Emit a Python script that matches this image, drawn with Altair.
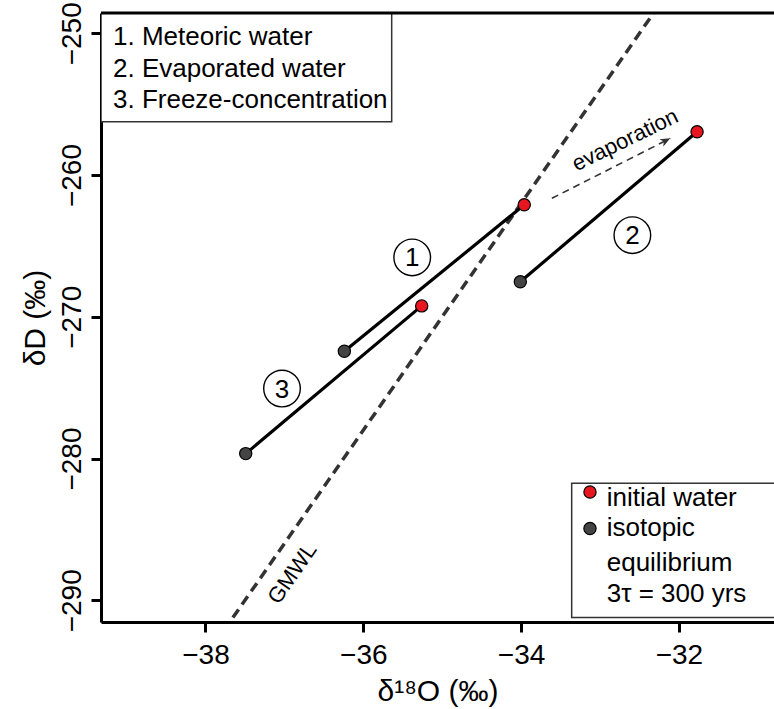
import altair as alt
import pandas as pd

# ---- data -----------------------------------------------------------------
# Three modelled paths: initial water -> isotopic equilibrium (3 tau = 300 yrs)
path_label = ["1", "2", "3"]
initial_d18o = [-33.96, -31.77, -35.26]
initial_dD = [-262.10, -256.95, -269.23]
equil_d18o = [-36.24, -34.01, -37.49]
equil_dD = [-272.43, -267.53, -279.65]

# numbered markers placed beside each path
marker_d18o = [-35.38, -32.59, -37.03]
marker_dD = [-265.81, -264.24, -275.06]

# Global Meteoric Water Line, dD = 8 * d18O + 10 (end points)
gmwl_d18o = [-38.0, -32.0]
gmwl_dD = [-294.0, -246.0]

# evaporation arrow (start, tip)
evap_d18o = [-33.61, -32.11]
evap_dD = [-261.64, -257.41]

x_ticks = [-38, -36, -34, -32]
y_ticks = [-290, -280, -270, -260, -250]

X_DOMAIN = [-39.324, -30.795]
Y_DOMAIN = [-291.53, -248.567]

FONT = "Liberation Sans"
RED = "#E8161E"
DARK = "#444444"

xs = alt.Scale(domain=X_DOMAIN, nice=False, zero=False)
ys = alt.Scale(domain=Y_DOMAIN, nice=False, zero=False)

x_axis = alt.Axis(
    values=x_ticks, format="d", grid=False,
    labelFont=FONT, labelFontSize=28, labelColor="black", labelPadding=9,
    tickSize=10, tickWidth=3, tickColor="black",
    domainWidth=3, domainColor="black",
    title="δ¹⁸O (‰)", titleFont=FONT, titleFontSize=30, titleFontWeight="normal",
    titleColor="black", titleX=336.5, titleY=78, titleBaseline="alphabetic",
    titleAlign="center",
)
y_axis = alt.Axis(
    values=y_ticks, format="d", grid=False,
    labelFont=FONT, labelFontSize=28, labelColor="black", labelPadding=11,
    labelAngle=270, labelAlign="center", labelBaseline="alphabetic",
    tickSize=10, tickWidth=3, tickColor="black",
    domainWidth=3, domainColor="black",
    title="δD (‰)", titleFont=FONT, titleFontSize=30, titleFontWeight="normal",
    titleColor="black", titleAngle=270, titleX=-57, titleY=304.5,
    titleBaseline="alphabetic", titleAlign="center",
)


def X(field):
    return alt.X(field, type="quantitative", scale=xs, axis=x_axis)


def Y(field):
    return alt.Y(field, type="quantitative", scale=ys, axis=y_axis)


paths = pd.DataFrame({
    "path": path_label,
    "x0": initial_d18o, "y0": initial_dD,
    "x1": equil_d18o, "y1": equil_dD,
})
markers = pd.DataFrame({"label": path_label, "x": marker_d18o, "y": marker_dD})
gmwl = pd.DataFrame({"x": gmwl_d18o, "y": gmwl_dD})
evap = pd.DataFrame({"x": [evap_d18o[0]], "y": [evap_dD[0]],
                     "x2": [evap_d18o[1]], "y2": [evap_dD[1]]})
evap_tip = pd.DataFrame({"x": [evap_d18o[1]], "y": [evap_dD[1]]})

# GMWL
gmwl_line = alt.Chart(gmwl).mark_line(
    color="#333333", strokeWidth=3.5, strokeDash=[10, 6], clip=True
).encode(x=X("x"), y=Y("y"))

gmwl_text = alt.Chart(pd.DataFrame({"t": ["GMWL"], "x": [-36.90], "y": [-288.1]})).mark_text(
    font=FONT, fontSize=22, angle=305, color="black"
).encode(x=X("x"), y=Y("y"), text="t:N")

# evaporation arrow
evap_line = alt.Chart(evap).mark_rule(
    color="#333333", strokeWidth=1.6, strokeDash=[7, 5]
).encode(x=X("x"), y=Y("y"), x2="x2", y2="y2")

evap_head = alt.Chart(evap_tip).mark_point(
    shape="M0,0 L-1,-0.42 L-0.72,0 L-1,0.42 Z", size=400, angle=333,
    filled=True, color="#333333", opacity=1
).encode(x=X("x"), y=Y("y"))

evap_text = alt.Chart(pd.DataFrame({"t": ["evaporation"], "x": [-32.683], "y": [-257.53]})).mark_text(
    font=FONT, fontSize=22, angle=334, color="black"
).encode(x=X("x"), y=Y("y"), text="t:N")

# path segments
path_lines = alt.Chart(paths).mark_rule(color="black", strokeWidth=3.2).encode(
    x=X("x0"), y=Y("y0"), x2="x1", y2="y1"
)

equil_pts = alt.Chart(paths).mark_point(
    shape="circle", filled=True, size=150, fill=DARK, stroke="black",
    strokeWidth=1.2, opacity=1
).encode(x=X("x1"), y=Y("y1"))

init_pts = alt.Chart(paths).mark_point(
    shape="circle", filled=True, size=150, fill=RED, stroke="black",
    strokeWidth=1.2, opacity=1
).encode(x=X("x0"), y=Y("y0"))

marker_rings = alt.Chart(markers).mark_point(
    shape="circle", filled=False, size=1340, stroke="black", strokeWidth=1.4,
    opacity=1
).encode(x=X("x"), y=Y("y"))

marker_text = alt.Chart(markers).mark_text(
    font=FONT, fontSize=26, color="black", baseline="middle", dy=1
).encode(x=X("x"), y=Y("y"), text="label:N")

# top frame line
frame_df = pd.DataFrame({"x": [X_DOMAIN[0]], "x2": [X_DOMAIN[1]], "y": [Y_DOMAIN[1]]})
top_frame = alt.Chart(frame_df).mark_rule(color="black", strokeWidth=3).encode(
    x=X("x"), x2="x2", y=Y("y")
)

# legend boxes
box_df = pd.DataFrame({
    "x": [X_DOMAIN[0], -33.359],
    "x2": [-35.64, -30.2],
    "y": [Y_DOMAIN[1], -281.74],
    "y2": [-256.24, -291.22],
})
boxes = alt.Chart(box_df).mark_rect(
    fill="white", stroke="#333333", strokeWidth=1.5, clip=True
).encode(x=X("x"), x2="x2", y=Y("y"), y2="y2")

legend1 = pd.DataFrame({
    "t": ["1. Meteoric water", "2. Evaporated water", "3. Freeze-concentration"],
    "x": [-39.172] * 3,
    "y": [-250.83, -253.05, -255.27],
})
legend1_text = alt.Chart(legend1).mark_text(
    font=FONT, fontSize=26, align="left", baseline="alphabetic", color="black"
).encode(x=X("x"), y=Y("y"), text="t:N")

legend2 = pd.DataFrame({
    "t": ["initial water", "isotopic", "equilibrium", "3τ = 300 yrs"],
    "x": [-32.915] * 4,
    "y": [-283.33, -285.48, -287.93, -290.12],
})
legend2_text = alt.Chart(legend2).mark_text(
    font=FONT, fontSize=26, align="left", baseline="alphabetic", color="black"
).encode(x=X("x"), y=Y("y"), text="t:N")

legend2_sym = pd.DataFrame({"x": [-33.127, -33.127], "y": [-282.36, -284.94],
                            "kind": ["initial water", "isotopic equilibrium"]})
legend2_pts = alt.Chart(legend2_sym).mark_point(
    shape="circle", filled=True, size=150, stroke="black", strokeWidth=1.2, opacity=1
).encode(
    x=X("x"), y=Y("y"),
    fill=alt.Fill("kind:N", scale=alt.Scale(domain=["initial water", "isotopic equilibrium"],
                                            range=[RED, DARK]), legend=None),
)

chart = alt.layer(
    gmwl_line, evap_line, evap_head, path_lines, equil_pts, init_pts,
    marker_rings, marker_text, evap_text, gmwl_text,
    boxes, legend1_text, legend2_text, legend2_pts, top_frame,
).properties(
    width=673, height=609,
    autosize=alt.AutoSizeParams(type="none"),
    padding={"left": 101, "top": 13, "right": 0, "bottom": 87},
).configure_view(stroke=None).configure(background="white")

chart.save("out.html", embed_options={"renderer": "svg", "actions": False})
